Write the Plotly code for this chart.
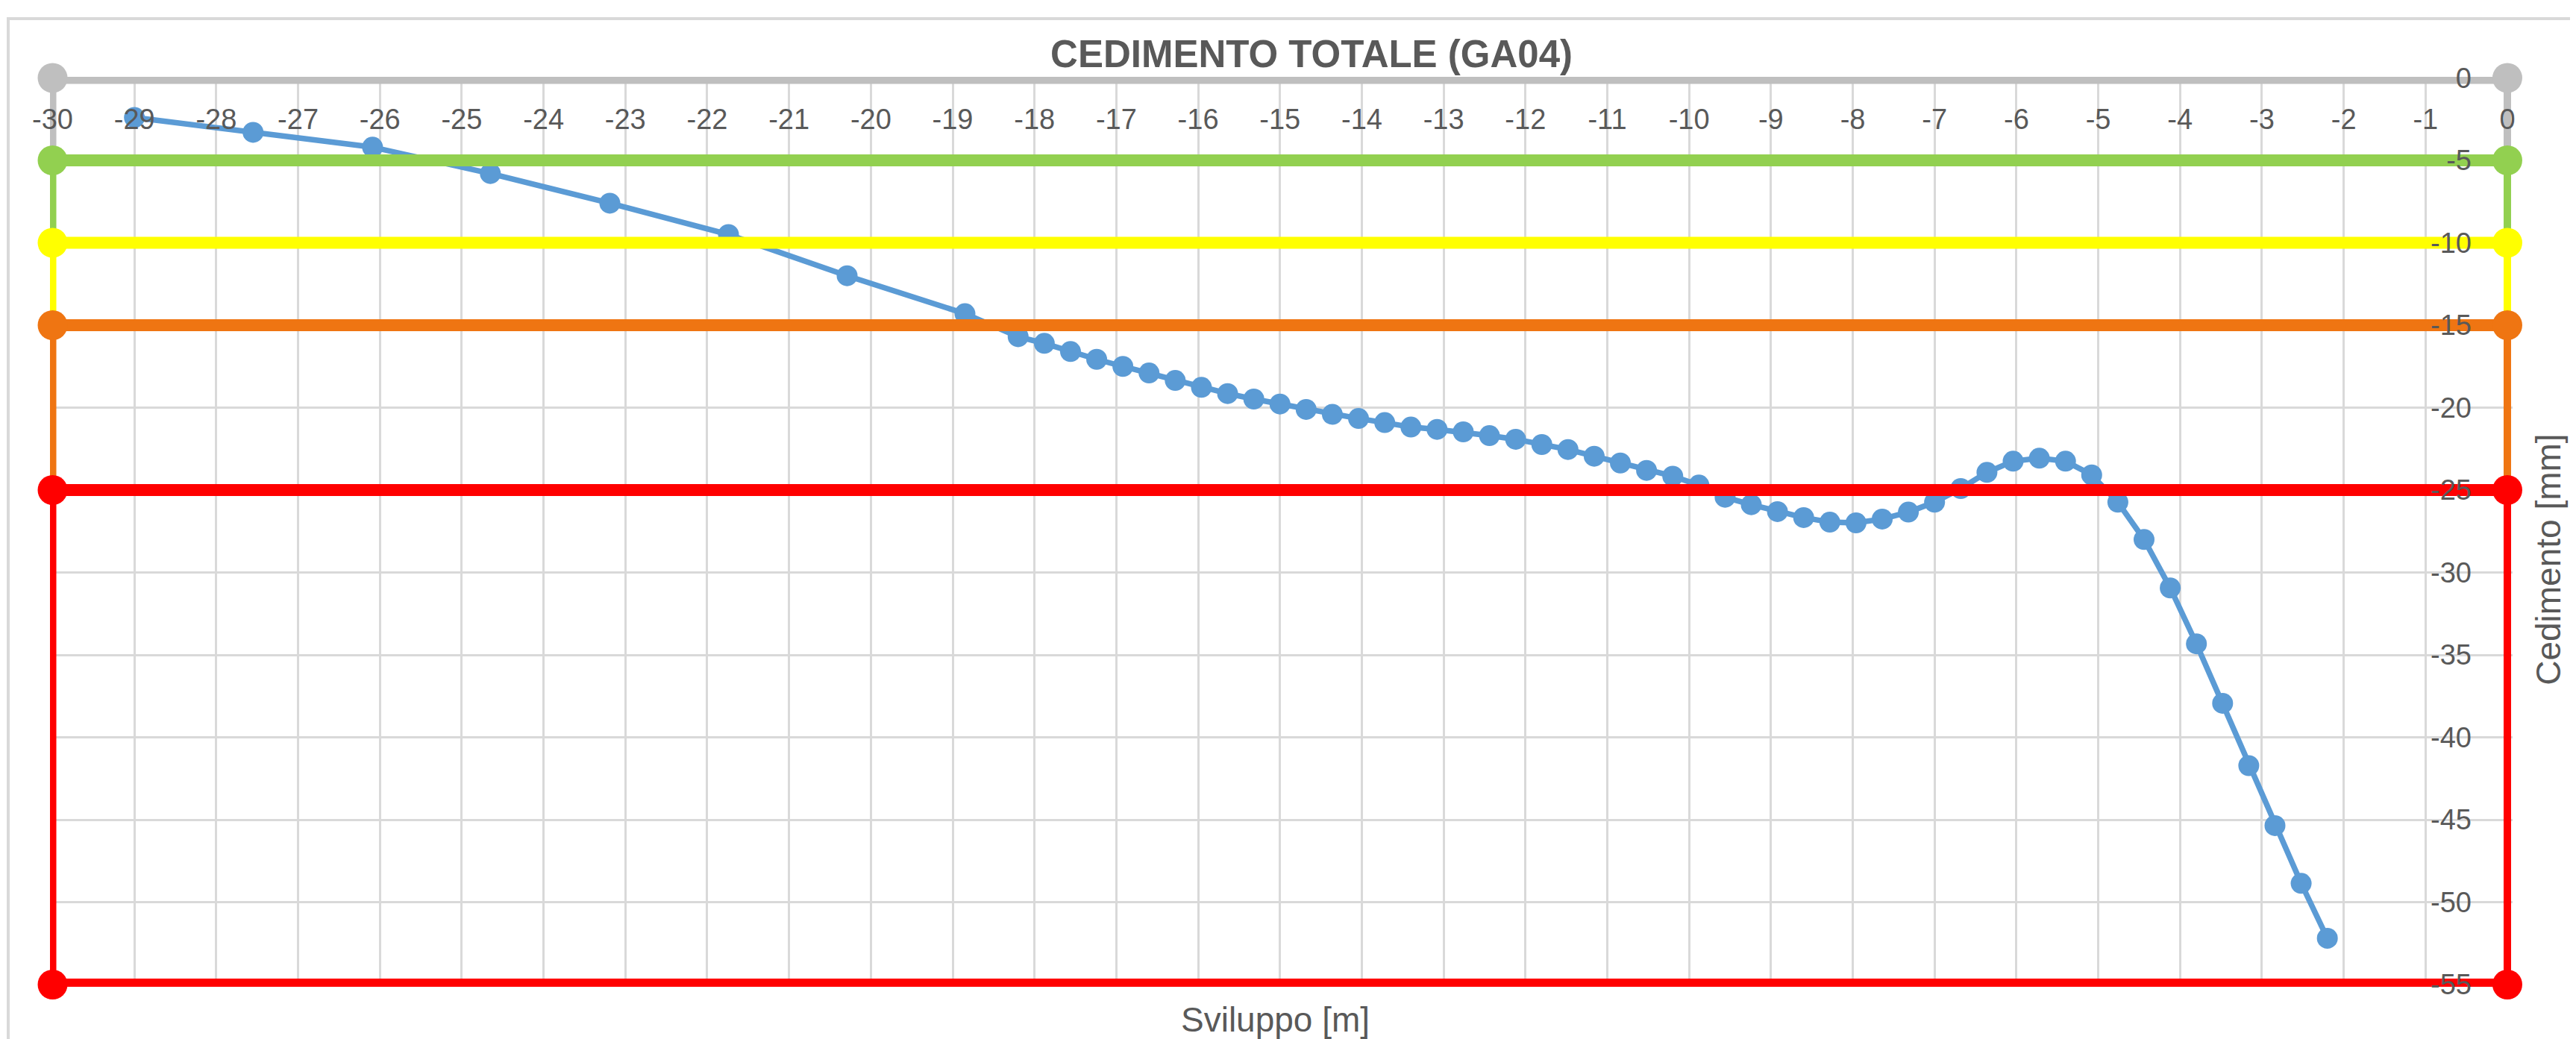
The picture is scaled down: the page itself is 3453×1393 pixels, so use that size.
import plotly.graph_objects as go

# ---------------- data ----------------
sviluppo = [-29.0, -27.55, -26.09, -24.65, -23.19, -21.74, -20.29, -18.85,
            -18.20, -17.88, -17.56, -17.24, -16.92, -16.60, -16.28, -15.96, -15.64, -15.32,
            -15.00, -14.68, -14.36, -14.04, -13.72, -13.40, -13.08, -12.76, -12.44, -12.12,
            -11.80, -11.48, -11.16, -10.84, -10.52, -10.20, -9.88, -9.56, -9.24, -8.92,
            -8.60, -8.28, -7.96, -7.64, -7.32, -7.00, -6.68, -6.36, -6.04, -5.72,
            -5.40, -5.08, -4.76, -4.44, -4.12, -3.80, -3.48, -3.16, -2.84, -2.52, -2.20]
cedimento = [-2.4, -3.3, -4.2, -5.8, -7.6, -9.5, -12.0, -14.3,
             -15.7, -16.1, -16.6, -17.07, -17.5, -17.9, -18.35, -18.77, -19.15, -19.48,
             -19.78, -20.11, -20.41, -20.66, -20.91, -21.18, -21.32, -21.47, -21.70, -21.92,
             -22.24, -22.54, -22.95, -23.36, -23.81, -24.16, -24.7, -25.44, -25.89, -26.31,
             -26.67, -26.95, -26.99, -26.76, -26.34, -25.74, -24.91, -23.93, -23.25, -23.07,
             -23.25, -24.08, -25.74, -28.0, -30.94, -34.33, -37.94, -41.72, -45.36, -48.86, -52.19]

soglie_x = [-30, 0]
soglie_livelli = [0, -5, -10, -15, -25, -55]
soglie_colori = ["#bfbfbf", "#92d050", "#ffff00", "#ef7512", "#ff0000", "#ff0000"]

x_tick_vals = [-30, -29, -28, -27, -26, -25, -24, -23, -22, -21, -20, -19, -18, -17, -16,
               -15, -14, -13, -12, -11, -10, -9, -8, -7, -6, -5, -4, -3, -2, -1, 0]
x_tick_text = ["-30", "-29", "-28", "-27", "-26", "-25", "-24", "-23", "-22", "-21", "-20",
               "-19", "-18", "-17", "-16", "-15", "-14", "-13", "-12", "-11", "-10", "-9",
               "-8", "-7", "-6", "-5", "-4", "-3", "-2", "-1", "0"]
y_tick_vals = [0, -5, -10, -15, -20, -25, -30, -35, -40, -45, -50, -55]
y_tick_text = ["0", "-5", "-10", "-15", "-20", "-25", "-30", "-35", "-40", "-45", "-50", "-55"]

titolo = "CEDIMENTO TOTALE (GA04)"
titolo_x = "Sviluppo [m]"
titolo_y = "Cedimento [mm]"

FONT = "Liberation Sans, Arial, sans-serif"
TXT = "#595959"
GRID = "#d9d9d9"

fig = go.Figure()

# measured series
fig.add_trace(go.Scatter(
    x=sviluppo, y=cedimento, mode="lines+markers",
    line=dict(color="#5b9bd5", width=7.5),
    marker=dict(size=28, color="#5b9bd5"),
    showlegend=False, hoverinfo="x+y"))

# vertical connectors of the threshold frame
for i in range(len(soglie_livelli) - 1):
    a, b = soglie_livelli[i], soglie_livelli[i + 1]
    fig.add_trace(go.Scatter(
        x=[soglie_x[0], soglie_x[0], None, soglie_x[1], soglie_x[1]],
        y=[a, b, None, a, b], mode="lines",
        line=dict(color=soglie_colori[i], width=10),
        showlegend=False, hoverinfo="skip"))

# horizontal threshold lines
for lv, col in zip(soglie_livelli, soglie_colori):
    fig.add_trace(go.Scatter(
        x=soglie_x, y=[lv, lv], mode="lines+markers",
        line=dict(color=col, width=16),
        marker=dict(size=40, color=col),
        cliponaxis=False, showlegend=False, hoverinfo="skip"))

fig.update_layout(
    width=3445, height=1385,
    margin=dict(l=59, r=85, t=95, b=70),
    paper_bgcolor="white", plot_bgcolor="white",
    font=dict(family=FONT, color=TXT),
    title=dict(text=titolo, x=0.508, xref="container", xanchor="center",
               y=0.9538, yref="container", yanchor="middle",
               font=dict(family=FONT, size=51, color=TXT, weight="bold")),
    xaxis=dict(range=[-30.032, 0.064], side="top",
               tickmode="array", tickvals=x_tick_vals, ticktext=x_tick_text,
               ticklabelposition="inside", ticklabeloverflow="allow",
               ticklabelstandoff=40, ticks="",
               tickfont=dict(family=FONT, size=38, color=TXT),
               showgrid=True, gridcolor=GRID, gridwidth=3,
               zeroline=False, showline=False),
    yaxis=dict(range=[-55.136, 0.068], side="right",
               tickmode="array", tickvals=y_tick_vals, ticktext=y_tick_text,
               ticklabelposition="inside", ticklabeloverflow="allow",
               ticklabelstandoff=52, ticks="",
               tickfont=dict(family=FONT, size=38, color=TXT),
               showgrid=True, gridcolor=GRID, gridwidth=3,
               zeroline=False, showline=False),
    shapes=[dict(type="rect", xref="paper", yref="paper",
                 x0=-0.01696, x1=1.05, y0=-0.1, y1=1.0639,
                 line=dict(color=GRID, width=4), layer="below")],
    annotations=[
        dict(text=titolo_x, xref="paper", yref="paper", x=0.4977, y=-0.036,
             xanchor="center", yanchor="middle", showarrow=False,
             font=dict(family=FONT, size=46, color=TXT)),
        dict(text=titolo_y, xref="paper", yref="paper", x=1.0145, y=0.4697,
             xanchor="center", yanchor="middle", textangle=-90, showarrow=False,
             font=dict(family=FONT, size=46, color=TXT)),
    ],
)

fig.write_html("out.html")
